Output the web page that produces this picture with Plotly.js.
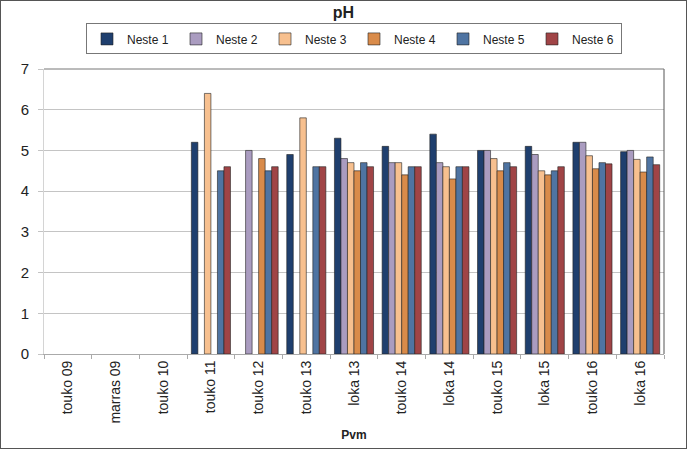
<!DOCTYPE html>
<html>
<head>
<meta charset="utf-8">
<script src="https://cdn.plot.ly/plotly-3.0.1.min.js"></script>
<style>
  body { margin: 0; background: #fff; }
  #chart { width: 687px; height: 449px; box-sizing: border-box; border: 1px solid #555; }
</style>
</head>
<body>
<div id="chart"></div>
<script>
var dates = ['touko 09', 'marras 09', 'touko 10', 'touko 11', 'touko 12', 'touko 13',
	'loka 13', 'touko 14', 'loka 14', 'touko 15', 'loka 15', 'touko 16', 'loka 16'];

var neste1 = [null, null, null, 5.2, null, 4.9, 5.3, 5.1, 5.4, 5.0, 5.1, 5.2, 4.97];
var neste2 = [null, null, null, null, 5.0, null, 4.8, 4.7, 4.7, 5.0, 4.9, 5.2, 5.0];
var neste3 = [null, null, null, 6.4, null, 5.8, 4.7, 4.7, 4.6, 4.8, 4.5, 4.87, 4.78];
var neste4 = [null, null, null, null, 4.8, null, 4.5, 4.4, 4.3, 4.5, 4.4, 4.55, 4.47];
var neste5 = [null, null, null, 4.5, 4.5, 4.6, 4.7, 4.6, 4.6, 4.7, 4.5, 4.7, 4.84];
var neste6 = [null, null, null, 4.6, 4.6, 4.6, 4.6, 4.6, 4.6, 4.6, 4.6, 4.67, 4.65];

var names = ['Neste 1', 'Neste 2', 'Neste 3', 'Neste 4', 'Neste 5', 'Neste 6'];
var colors = ['#1f3f6e', '#aa9cc0', '#f7c08f', '#d98b4a', '#4f74a2', '#a04446'];
var series = [neste1, neste2, neste3, neste4, neste5, neste6];

var data = series.map(function(vals, i) {
	return {
		type: 'bar',
		x: dates,
		y: vals,
		name: names[i],
		marker: {
			color: colors[i],
			line: { color: '#222', width: 0.6 }
		}
	};
});

var layout = {
	width: 685,
	height: 447,
	margin: { l: 43, r: 22, t: 68, b: 94 },
	paper_bgcolor: '#fff',
	plot_bgcolor: '#fff',
	font: { family: 'Liberation Sans, Arial, sans-serif', color: '#222' },
	title: {
		text: '<b>pH</b>',
		font: { size: 16, color: '#222' },
		x: 0.5, xanchor: 'center',
		y: 0.988, yanchor: 'top'
	},
	barmode: 'group',
	bargap: 0.18,
	bargroupgap: 0,
	showlegend: true,
	legend: {
		orientation: 'h',
		x: 0.5, xanchor: 'center',
		y: 1.16, yanchor: 'top',
		bordercolor: '#777',
		borderwidth: 1,
		font: { size: 12, color: '#222' },
		itemwidth: 30,
		entrywidth: 44,
		traceorder: 'normal'
	},
	xaxis: {
		type: 'category',
		tickangle: -90,
		tickson: 'boundaries',
		ticks: 'outside',
		ticklen: 4,
		tickcolor: '#aaa',
		showline: true,
		linecolor: '#aaa',
		showgrid: false,
		tickfont: { size: 14, color: '#222' },
		title: { text: '<b>Pvm</b>', font: { size: 12, color: '#222' }, standoff: 7 }
	},
	yaxis: {
		range: [0, 7],
		dtick: 1,
		showgrid: true,
		gridcolor: '#c4c4c4',
		zeroline: false,
		tickfont: { size: 15, color: '#222' },
		ticks: 'outside',
		ticklen: 5,
		tickcolor: '#c4c4c4',
		ticklabelstandoff: 6,
		showline: true,
		linecolor: '#d4d4d4'
	},
	shapes: [{
		type: 'line', xref: 'paper', yref: 'paper',
		x0: 1, x1: 1, y0: 0, y1: 1,
		line: { color: '#555', width: 1 }
	}, {
		type: 'line', xref: 'paper', yref: 'paper',
		x0: 0, x1: 1, y0: 1, y1: 1,
		line: { color: '#777', width: 1 }
	}]
};

Plotly.newPlot('chart', data, layout, { displayModeBar: false });
</script>
</body>
</html>
